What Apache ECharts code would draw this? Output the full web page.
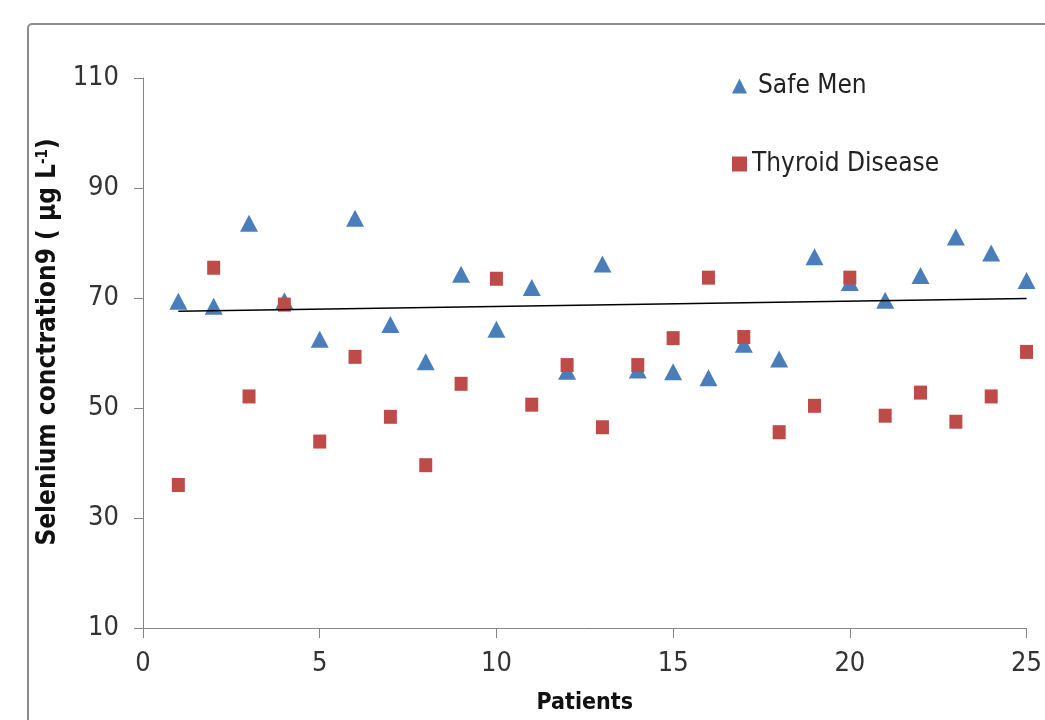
<!DOCTYPE html>
<html><head><meta charset="utf-8">
<script src="https://cdn.jsdelivr.net/npm/echarts@6/dist/echarts.min.js"></script>
<style>html,body{margin:0;padding:0;background:#fff}#c{width:1045px;height:720px}</style>
</head><body><div id="c"></div>
<script>
var patients = [1,2,3,4,5,6,7,8,9,10,11,12,13,14,15,16,17,18,19,20,21,22,23,24,25];
var safeMen = [69.4,68.5,83.6,69.5,62.5,84.5,65.2,58.4,74.3,64.3,71.9,56.7,76.2,56.9,56.6,55.5,61.6,58.9,77.5,72.8,69.6,74.1,81.1,78.2,73.2];
var thyroid = [36.0,75.5,52.1,68.8,43.9,59.3,48.4,39.6,54.4,73.5,50.6,57.8,46.5,57.8,62.7,73.7,62.9,45.6,50.4,73.7,48.6,52.8,47.5,52.1,60.2];
var trendX = [1,25];
var trendY = [67.6,69.9];
var yTicks = [10,30,50,70,90,110];
var xTicks = [0,5,10,15,20,25];

var font = 'Liberation Sans Narrow, DejaVu Sans Condensed, sans-serif';
var chart = echarts.init(document.getElementById('c'), null, {renderer:'canvas'});
function pairs(xs, ys){ return xs.map(function(x,i){return [x, ys[i]];}); }
chart.setOption({
  animation:false,
  backgroundColor:'#fff',
  graphic:[{type:'rect', shape:{x:28,y:24,width:1040,height:720,r:4}, style:{fill:'none',stroke:'#8c8c8c',lineWidth:2}, silent:true}],
  grid:{left:143,right:16,top:78,bottom:88,containLabel:false},
  legend:{
    orient:'vertical', left:727, top:68, itemGap:52, itemWidth:15, itemHeight:15,
    textStyle:{fontFamily:font, fontSize:26, color:'#222'},
    data:[{name:'Safe Men', icon:'triangle', textStyle:{padding:[0,0,0,6]}},{name:'Thyroid Disease', icon:'rect'}]
  },
  xAxis:{
    type:'value', min:0, max:25, interval:5,
    name:'Patients', nameLocation:'middle', nameGap:64,
    nameTextStyle:{fontFamily:font, fontWeight:'bold', fontSize:23, color:'#111'},
    axisLine:{show:true, onZero:false, lineStyle:{color:'#868686', width:1}},
    axisTick:{show:true, length:10, lineStyle:{color:'#868686'}},
    splitLine:{show:false},
    axisLabel:{fontFamily:font, fontSize:27, color:'#333', margin:22}
  },
  yAxis:{
    type:'value', min:10, max:110, interval:20,
    name:'{a|Selenium conctration9 ( µg L}{s|-1}{a|)}', nameLocation:'middle', nameGap:78,
    nameTextStyle:{padding:[0,0,0,22], rich:{a:{fontFamily:font, fontWeight:'bold', fontSize:26, color:'#111'}, s:{fontFamily:font, fontWeight:'bold', fontSize:15, color:'#111', verticalAlign:'top', padding:[0,0,12,0]}}},
    axisLine:{show:true, onZero:false, lineStyle:{color:'#868686', width:1}},
    axisTick:{show:true, length:9, lineStyle:{color:'#868686'}},
    splitLine:{show:false},
    axisLabel:{fontFamily:font, fontSize:27, color:'#333', margin:24}
  },
  series:[
    {name:'Safe Men', type:'scatter', symbol:'triangle', symbolSize:[18,17], itemStyle:{color:'#4A7EBB', opacity:1}, data:pairs(patients, safeMen), z:2},
    {name:'Thyroid Disease', type:'scatter', symbol:'rect', symbolSize:[13,14], itemStyle:{color:'#BE4B48', opacity:1}, data:pairs(patients, thyroid), z:3},
    {name:'trend', type:'line', symbol:'none', lineStyle:{color:'#000', width:1.5}, data:pairs(trendX, trendY), z:4, silent:true}
  ]
});
</script></body></html>
